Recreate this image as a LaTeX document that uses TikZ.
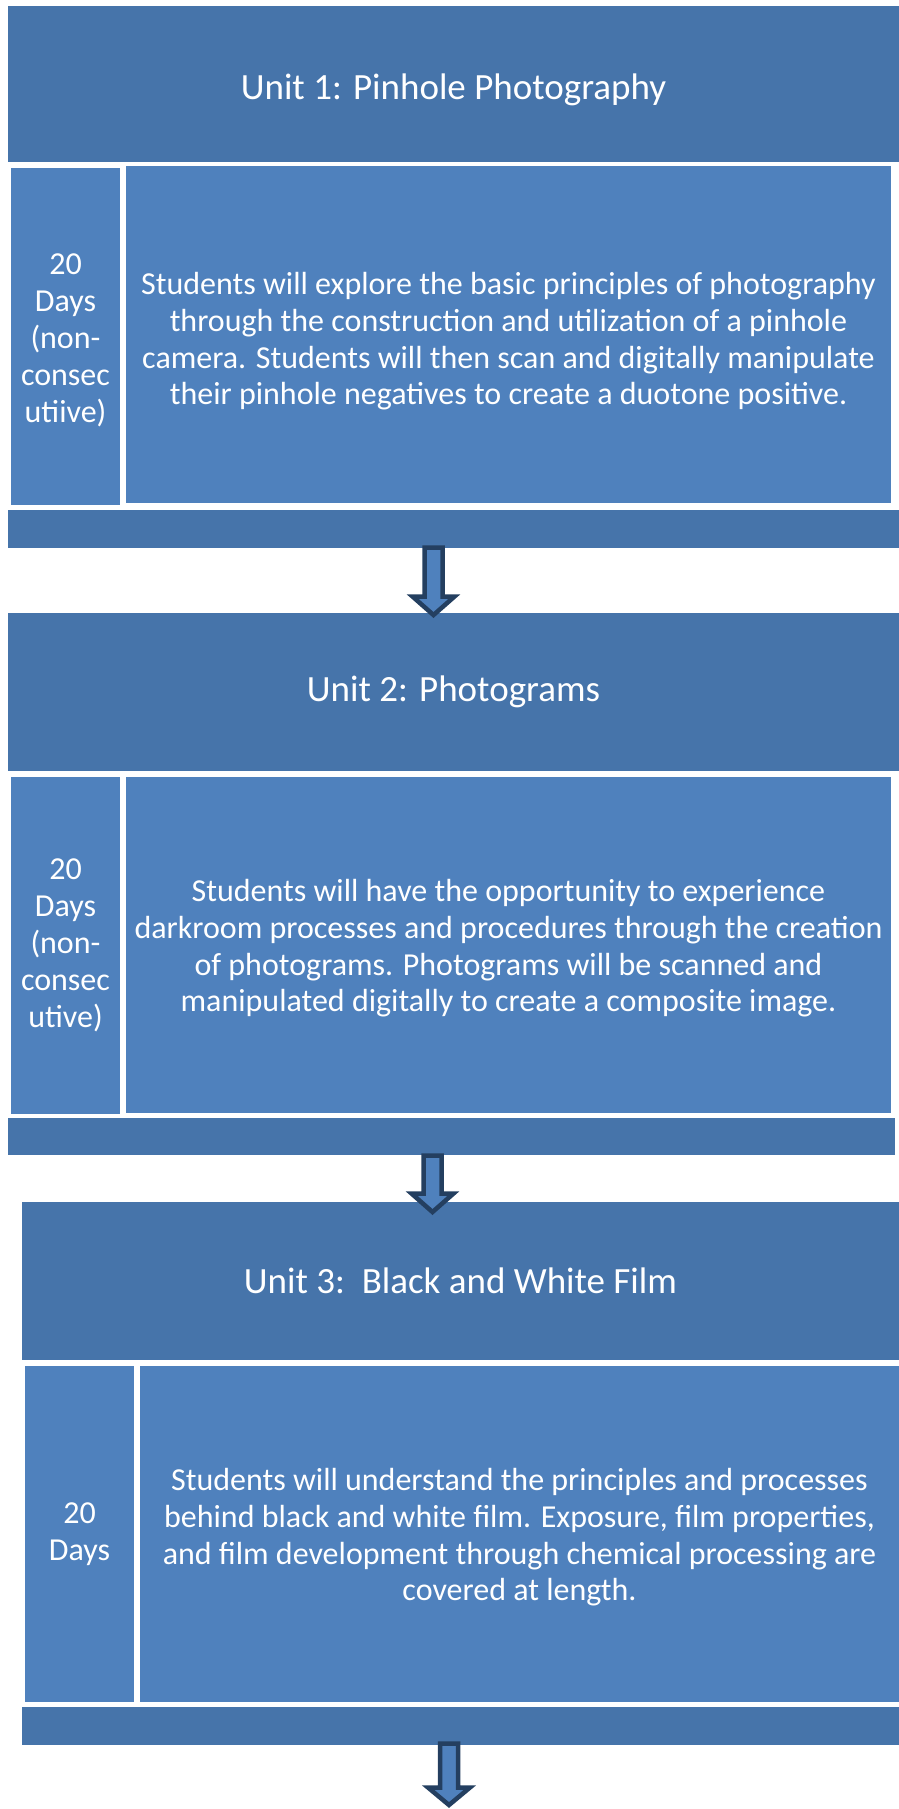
\documentclass[tikz,border=0pt]{standalone}
\usepackage{fontspec}
\setmainfont{Carlito}
\definecolor{unitblue}{RGB}{70,116,170}
\definecolor{textblue}{RGB}{79,129,189}
\definecolor{arrowdark}{RGB}{36,63,96}

\begin{document}
\begin{tikzpicture}[x = 1pt, y = -1pt,
                    head/.style = {rectangle, fill = unitblue, text = white, inner sep = 0pt,
                                   font = \fontsize{37}{44}\selectfont},
                    days/.style = {rectangle, fill = textblue, text = white, inner sep = 0pt,
                                   align = center, font = \fontsize{32}{37}\selectfont},
                    body/.style = {rectangle, fill = textblue, text = white, inner sep = 0pt,
                                   align = center, font = \fontsize{32}{36.6}\selectfont},
                    foot/.style = {rectangle, fill = unitblue, inner sep = 0pt},
                    fatarrow/.style = {draw = arrowdark, fill = textblue, line width = 4.5pt,
                                       line join = miter}]

\useasboundingbox (0,0) rectangle (899,1809);

% unit 1
\node [head, minimum width = 891pt, minimum height = 156pt] (H1) at (453.5,84) {\rule{0pt}{38pt}Unit 1: Pinhole Photography};
\node [days, minimum width = 109pt, minimum height = 337pt] (D1) at (65.5,336.5)
  {\rule{0pt}{28pt}20\\Days\\(non-\\consec\\utiive)};
\node [body, minimum width = 765pt, minimum height = 337pt] (B1) at (508.5,334.5)
  {\rule{0pt}{36pt}Students will explore the basic principles of photography\\
   through the construction and utilization of a pinhole\\
   camera. Students will then scan and digitally manipulate\\
   their pinhole negatives to create a duotone positive.};
\node [foot, minimum width = 891pt, minimum height = 38pt] (F1) at (453.5,529) {};

% unit 2
\node [head, minimum width = 891pt, minimum height = 158pt] (H2) at (453.5,692) {Unit 2: Photograms};
\node [days, minimum width = 109pt, minimum height = 337pt] (D2) at (65.5,945.5)
  {20\\Days\\(non-\\consec\\utive)};
\node [body, minimum width = 765pt, minimum height = 336pt] (B2) at (508.5,945)
  {\rule{0pt}{29pt}Students will have the opportunity to experience\\
   darkroom processes and procedures through the creation\\
   of photograms. Photograms will be scanned and\\
   manipulated digitally to create a composite image.};
\node [foot, minimum width = 887pt, minimum height = 37pt] (F2) at (451.5,1136.5) {};

% unit 3
\node [head, minimum width = 877pt, minimum height = 158pt] (H3) at (460.5,1281) {Unit 3:\ \ Black and White Film};
\node [days, minimum width = 109pt, minimum height = 336pt] (D3) at (79.5,1534)
  {20\\Days};
\node [body, minimum width = 759pt, minimum height = 336pt] (B3) at (519.5,1534)
  {\rule{0pt}{29pt}Students will understand the principles and processes\\
   behind black and white film. Exposure, film properties,\\
   and film development through chemical processing are\\
   covered at length.};
\node [foot, minimum width = 877pt, minimum height = 38pt] (F3) at (460.5,1726) {};

% arrows between units
\coordinate (A1) at (433.5,547.5);
\coordinate (A2) at (432.5,1155.5);
\coordinate (A3) at (449,1743.5);
\draw [fatarrow] (A1) ++(-9,0) -- ++(0,49) -- ++(-12,0) -- ++(21,18.5) -- ++(21,-18.5) -- ++(-12,0) -- ++(0,-49) -- cycle;
\draw [fatarrow] (A2) ++(-9,0) -- ++(0,38) -- ++(-12,0) -- ++(21,18.5) -- ++(21,-18.5) -- ++(-12,0) -- ++(0,-38) -- cycle;
\draw [fatarrow] (A3) ++(-9,0) -- ++(0,44) -- ++(-12,0) -- ++(21,17.5) -- ++(21,-17.5) -- ++(-12,0) -- ++(0,-44) -- cycle;
\end{tikzpicture}
\end{document}
